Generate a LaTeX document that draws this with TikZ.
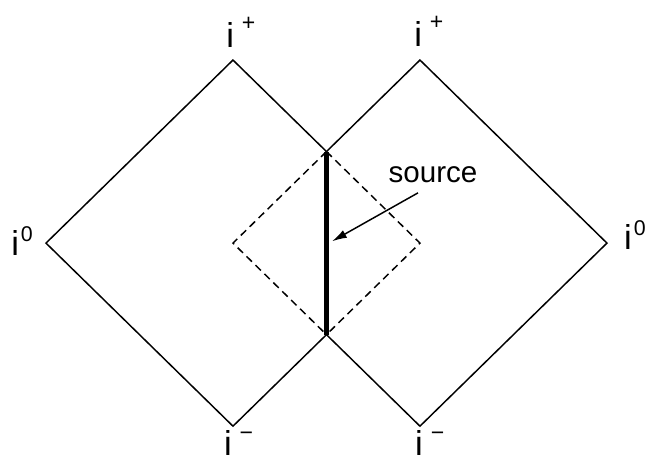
\documentclass[tikz,border=0pt]{standalone}
\usepackage{fontspec}
\setmainfont{Liberation Sans}
\usetikzlibrary{arrows.meta}
\tikzset{>={Latex[length=4.5pt,width=2.6pt]}}
\tikzstyle{cone} = [line width = 0.45pt]
\tikzstyle{dashedcone} = [%
					line width = 0.45pt,
					dash pattern = on 2.3pt off 1.5pt]
\tikzstyle{worldline} = [line width = 1.5pt]
\tikzstyle{infty} = [anchor = base, inner sep = 0pt, font = \fontsize{10.5}{12}\selectfont]
\newcommand{\ilabel}[3]{i\rlap{\hspace{#3}\raisebox{#2}{\fontsize{7}{8}\selectfont #1}}}

\begin{document}
\begin{tikzpicture}[x=1cm, y=0.979cm]

	% Page
	\useasboundingbox (-2.492,-2.383) rectangle (4.471,2.656);

	% Coordinates
	\coordinate (Lt) at (0,2);
	\coordinate (Ll) at (-2,0);
	\coordinate (Lb) at (0,-2);
	\coordinate (Rt) at (2,2);
	\coordinate (Rr) at (4,0);
	\coordinate (Rb) at (2,-2);
	\coordinate (Ct) at (1,1);
	\coordinate (Cb) at (1,-1);
	\coordinate (Cl) at (0,0);
	\coordinate (Cr) at (2,0);
	\coordinate (mid) at (1.06,0.02);

	% Solid Diamonds
	\draw[cone] (Ct) -- (Lt) -- (Ll) -- (Lb) -- (Cb);
	\draw[cone] (Ct) -- (Rt) -- (Rr) -- (Rb) -- (Cb);

	% Dashed Overlap
	\draw[dashedcone] (Ct) -- (Cr) -- (Cb);
	\draw[dashedcone] (Ct) -- (Cl) -- (Cb);

	% Source
	\draw[worldline] (Ct) -- (Cb);
	\node (source) [anchor=base, inner sep=3pt, font=\fontsize{9}{11}\selectfont] at (2.139,0.667) {source};
	\draw[->, line width=0.45pt] ([xshift=-0.16cm]source.south) -- (mid);

	% Labels
	\node (iplusL)  [infty] at (-0.03,2.14)   {\ilabel{+}{5pt}{2.4pt}};
	\node (iplusR)  [infty] at (1.98,2.15)    {\ilabel{+}{5pt}{2.4pt}};
	\node (izeroL)  [infty] at (-2.33,-0.14)  {\ilabel{\fontsize{6.5}{8}\selectfont 0}{4.3pt}{0.6pt}};
	\node (izeroR)  [infty] at (4.225,-0.07)  {\ilabel{\fontsize{6.5}{8}\selectfont 0}{4.3pt}{0.6pt}};
	\node (iminusL) [infty] at (-0.053,-2.32) {\ilabel{\char"2212}{4.7pt}{2.4pt}};
	\node (iminusR) [infty] at (1.99,-2.32)   {\ilabel{\char"2212}{4.7pt}{2.4pt}};

\end{tikzpicture}
\end{document}
